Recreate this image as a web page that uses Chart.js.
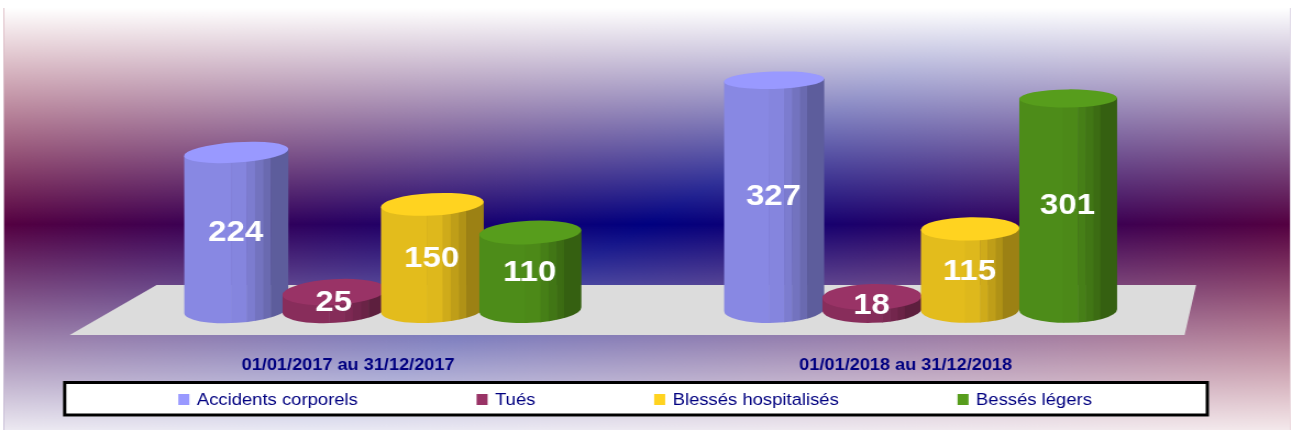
<!DOCTYPE html>
<html>
<head>
<meta charset="utf-8">
<title>Accidents</title>
<script src="https://cdn.jsdelivr.net/npm/chart.js@4"></script>
<style>
  html, body { margin: 0; padding: 0; background: #fff; overflow: hidden; }
  #wrap { width: 1292px; height: 432px; overflow: hidden; }
  /* the reference is a wide stretched image, so the whole canvas gets stretched too */
  canvas { display: block; transform-origin: 0 0; transform: scaleX(1.09957); filter: blur(0.4px); }
</style>
</head>
<body>
<div id="wrap"><canvas id="chart" width="1175" height="432"></canvas></div>
<script>
const categories = ["01/01/2017 au 31/12/2017", "01/01/2018 au 31/12/2018"];
const seriesNames = ["Accidents corporels", "Tués", "Blessés hospitalisés", "Bessés légers"];
const accidents = [224, 327];
const tues = [25, 18];
const hospitalises = [150, 115];
const legers = [110, 301];
const colors = ["#9999ff", "#993366", "#ffd320", "#579d1c"];

const NAVY = "#000080";
const FONT = '"Liberation Sans", Arial, sans-serif';

// brightness of the facets on a cylinder side, left to right
const facets = [
  [0.00, 0.89], [0.45, 0.87], [0.60, 0.81],
  [0.68, 0.75], [0.76, 0.69], [0.83, 0.61]
];

// the date labels sit off centre of their group in the perspective view
const labelShift = [-32, -14];

function shade(hex, f) {
  const n = parseInt(hex.slice(1), 16);
  const r = Math.round(((n >> 16) & 255) * f);
  const g = Math.round(((n >> 8) & 255) * f);
  const b = Math.round((n & 255) * f);
  return `rgb(${r},${g},${b})`;
}

// ellipses get flatter toward the top of the picture
function ellipseHeight(y) {
  return 8.7 + (y - 80) * 0.0198;
}

// and they lean more the further left they are
function ellipseTilt(x) {
  return (-5.2 + x * 0.00473) * Math.PI / 180;
}

function drawCylinder(ctx, bar, color) {
  // bars on the left come out a bit wider (perspective)
  const width = bar.width * (1 + (971 - bar.x) * 0.000088);
  const rx = width / 2;
  const tilt = ellipseTilt(bar.x);
  const ryTop = ellipseHeight(bar.y);
  const ryBase = ellipseHeight(bar.base);
  const left = bar.x - rx;
  const dy = rx * Math.sin(tilt);

  ctx.save();
  ctx.beginPath();
  ctx.ellipse(bar.x, bar.base, rx, ryBase, tilt, Math.PI, 0, true);
  ctx.lineTo(bar.x + rx, bar.y + dy);
  ctx.lineTo(left, bar.y - dy);
  ctx.closePath();
  ctx.clip();
  facets.forEach((f, i) => {
    const end = i + 1 < facets.length ? facets[i + 1][0] : 1;
    ctx.fillStyle = shade(color, f[1]);
    ctx.fillRect(left + f[0] * width, bar.y - 30, (end - f[0]) * width + 0.5, bar.base - bar.y + 60);
  });
  ctx.restore();

  ctx.beginPath();
  ctx.ellipse(bar.x, bar.y, rx, ryTop, tilt, 0, Math.PI * 2);
  ctx.fillStyle = color;
  ctx.fill();
}

const backdrop = {
  id: "backdrop",
  beforeDraw(chart) {
    const { ctx, width, height } = chart;
    const k = 1.09957;
    ctx.save();
    ctx.fillStyle = "#fff";
    ctx.fillRect(0, 0, width, height);
    // tilted red / navy / red band
    const hue = ctx.createLinearGradient(350.5 / k, -179.8, 941.5 / k, 629.8);
    hue.addColorStop(0, "#7e0021");
    hue.addColorStop(0.5, "#000080");
    hue.addColorStop(1, "#7e0021");
    ctx.fillStyle = hue;
    ctx.fillRect(4 / k, 8, width - 6 / k, height - 10);
    // fades to white top and bottom
    const fade = ctx.createLinearGradient(0, 8, 0, 432);
    fade.addColorStop(0, "rgba(255,255,255,1)");
    fade.addColorStop(0.51, "rgba(255,255,255,0)");
    fade.addColorStop(1, "rgba(255,255,255,0.92)");
    ctx.fillStyle = fade;
    ctx.fillRect(4 / k, 8, width - 6 / k, height - 10);
    ctx.restore();
  },
  beforeDatasetsDraw(chart) {
    const { ctx, chartArea } = chart;
    const { left, right } = chartArea;
    ctx.save();
    ctx.fillStyle = "#dcdcdc";
    ctx.beginPath();
    ctx.moveTo(left + 38.4, 285);
    ctx.lineTo(right + 5.6, 285);
    ctx.lineTo(right - 4.9, 335);
    ctx.lineTo(left - 40.6, 335);
    ctx.closePath();
    ctx.fill();
    ctx.restore();
  },
  afterDatasetsDraw(chart) {
    const { ctx, data, scales } = chart;
    const k = 1.09957;

    // cylinders, group by group so the later ones overlap the earlier ones
    data.labels.forEach((_, c) => {
      data.datasets.forEach((ds, d) => {
        drawCylinder(ctx, chart.getDatasetMeta(d).data[c], colors[d]);
      });
    });

    // values in the middle of each cylinder
    ctx.save();
    ctx.fillStyle = "#fff";
    ctx.font = `bold 30px ${FONT}`;
    ctx.textAlign = "center";
    ctx.textBaseline = "middle";
    data.datasets.forEach((ds, d) => {
      chart.getDatasetMeta(d).data.forEach((bar, c) => {
        ctx.fillText(String(ds.data[c]), bar.x - 0.5, (bar.y + bar.base) / 2 + 2);
      });
    });

    // date labels under each group
    ctx.fillStyle = NAVY;
    ctx.font = `bold 16.5px ${FONT}`;
    data.labels.forEach((label, c) => {
      ctx.fillText(label, scales.x.getPixelForTick(c) + labelShift[c], 365.5);
    });
    ctx.restore();

    // legend box, items spaced by a fixed gap and centred in it
    const box = { x: 63 / k, y: 381, w: 1146 / k, h: 35.5 };
    ctx.save();
    ctx.fillStyle = "#fff";
    ctx.fillRect(box.x, box.y, box.w, box.h);
    ctx.strokeStyle = "#000";
    ctx.lineWidth = 3;
    ctx.strokeRect(box.x + 1.5, box.y + 1.5, box.w - 3, box.h - 3);
    ctx.font = `16.8px ${FONT}`;
    ctx.textBaseline = "middle";
    const marker = 10;
    const textGap = 6.8;
    const itemGap = 108;
    const widths = data.datasets.map(ds => marker + textGap + ctx.measureText(ds.label).width);
    let x = box.x - 0.8 + (box.w - widths.reduce((a, b) => a + b, 0) - itemGap * 3) / 2;
    data.datasets.forEach((ds, d) => {
      ctx.fillStyle = colors[d];
      ctx.fillRect(x, box.y + 13, marker, 11);
      ctx.fillStyle = NAVY;
      ctx.fillText(ds.label, x + marker + textGap, box.y + 19);
      x += widths[d] + itemGap;
    });
    ctx.restore();
  }
};

new Chart(document.getElementById("chart"), {
  type: "bar",
  data: {
    labels: categories,
    datasets: [accidents, tues, hospitalises, legers].map((values, i) => ({
      label: seriesNames[i],
      data: values,
      backgroundColor: "rgba(0,0,0,0)",
      borderWidth: 0,
      barPercentage: 1,
      categoryPercentage: 0.729
    }))
  },
  options: {
    responsive: false,
    animation: false,
    layout: { padding: { left: 104, right: 92.8, top: 29, bottom: 122.4 } },
    plugins: {
      legend: { display: false },
      title: { display: false },
      tooltip: { enabled: false }
    },
    scales: {
      x: { display: false },
      y: { display: false, min: 0, max: 400 }
    }
  },
  plugins: [backdrop]
});
</script>
</body>
</html>
